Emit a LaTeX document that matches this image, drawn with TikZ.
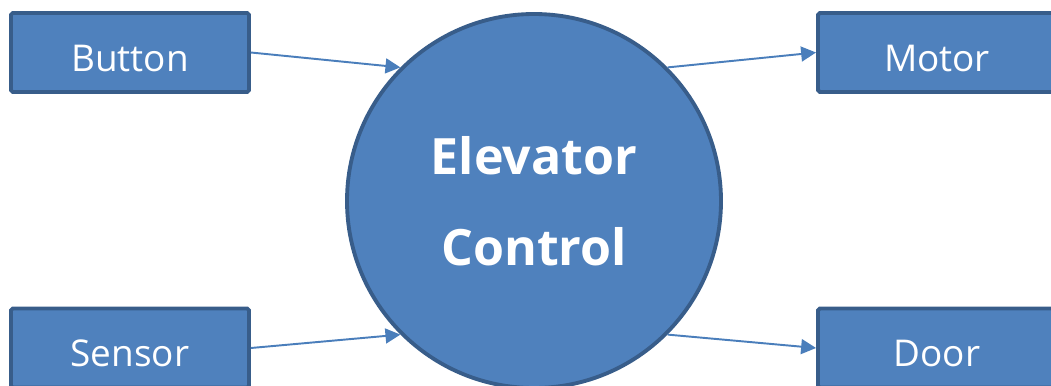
\documentclass[tikz,border=0pt]{standalone}
\usepackage{fontspec}
\setmainfont{Open Sans}
\usepackage{tikz}
\usetikzlibrary{arrows.meta}

\definecolor{boxfill}{HTML}{4F81BD}
\definecolor{boxline}{HTML}{385D8A}
\definecolor{arrowline}{HTML}{4A7EBB}

\tikzset{
    unit/.style={draw=boxline, fill=boxfill, line width=2.2pt, rounded corners=1pt,
        minimum width=4.76cm, minimum height=1.58cm, text=white,
        text height=21.5pt, text depth=0pt,
        font=\fontsize{21}{25}\selectfont},
    ctrl/.style={circle, draw=boxline, fill=boxfill, line width=2.2pt,
        minimum size=7.48cm, text=white, align=center,
        font=\fontsize{28.5}{52}\selectfont\bfseries},
    flow/.style={color=arrowline, line width=1.1pt,
        -{Triangle[length=8.5pt,width=8.5pt]}}
}

\begin{document}
\begin{tikzpicture}
    \useasboundingbox (0,0) rectangle (21.02,7.7);
    \node[ctrl] at (10.68, 3.68) (ec) {Elevator\\Control};
    \node[unit] at (2.6, 6.65) (button) {Button};
    \node[unit] at (2.6, 0.74) (sensor) {Sensor};
    \node[unit] at (18.74, 6.65) (motor) {Motor};
    \node[unit] at (18.74, 0.74) (door) {Door};
    \path[flow]
    (button.east) edge (ec.135)
    (sensor.east) edge (ec.225)
    (ec.45) edge (motor.west)
    (ec.-45) edge (door.west);
\end{tikzpicture}
\end{document}
